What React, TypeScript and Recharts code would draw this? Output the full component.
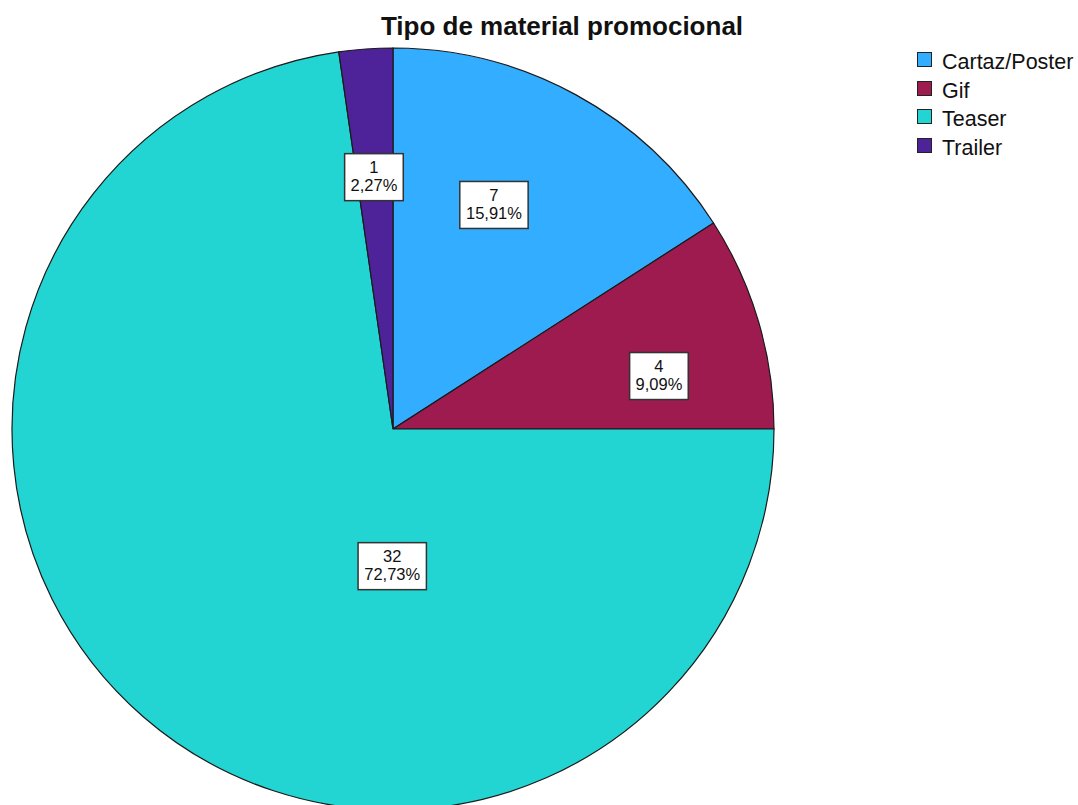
import React from "react";
import { PieChart, Pie, Cell, Legend } from "recharts";

const categories = ["Cartaz/Poster", "Gif", "Teaser", "Trailer"];
const counts = [7, 4, 32, 1];
const percentLabels = ["15,91%", "9,09%", "72,73%", "2,27%"];

const COLORS = ["#33adff", "#9e1b4f", "#22d5d3", "#4e2399"];
const FONT = '"Liberation Sans", Arial, sans-serif';

// label box centres as fractions of the radius (SPSS places them freely)
const LABEL_OFFSETS = [
  [0.265, -0.588],
  [0.698, -0.139],
  [-0.002, 0.36],
  [-0.05, -0.661],
];

const data = categories.map((name, i) => ({
  name,
  value: counts[i],
  pct: percentLabels[i],
}));

const charW = (s: string, size: number) => {
  let w = 0;
  for (const ch of s) {
    if (ch === ",") w += 0.278;
    else if (ch === "%") w += 0.889;
    else w += 0.556;
  }
  return w * size;
};

const SliceLabel = (props: any) => {
  const { cx, cy, outerRadius, index } = props;
  const [fx, fy] = LABEL_OFFSETS[index];
  const x = cx + fx * outerRadius;
  const y = cy + fy * outerRadius;
  const size = 16.5;
  const top = String(counts[index]);
  const bottom = percentLabels[index];
  const w = Math.max(charW(top, 17.5), charW(bottom, 17.5)) + 9;
  const h = 47;
  return (
    <g>
      <rect
        x={x - w / 2}
        y={y - h / 2}
        width={w}
        height={h}
        fill="#ffffff"
        stroke="#333333"
        strokeWidth={1.5}
      />
      <text
        x={x}
        y={y - 4}
        textAnchor="middle"
        fontFamily={FONT}
        fontSize={size}
        fill="#111"
      >
        {top}
      </text>
      <text
        x={x}
        y={y + 14}
        textAnchor="middle"
        fontFamily={FONT}
        fontSize={size}
        fill="#111"
      >
        {bottom}
      </text>
    </g>
  );
};

const LegendBox = () => (
  <div style={{ fontFamily: FONT }}>
    {categories.map((c, i) => (
      <div
        key={c}
        style={{ display: "flex", alignItems: "flex-start", height: 28.5 }}
      >
        <div
          style={{
            width: 13,
            height: 13,
            background: COLORS[i],
            border: "1px solid #222",
            marginTop: 1,
          }}
        />
        <span
          style={{
            marginLeft: 10,
            fontSize: 21.5,
            lineHeight: "20px",
            color: "#111",
            marginTop: 1,
          }}
        >
          {c}
        </span>
      </div>
    ))}
  </div>
);

export default function App() {
  return (
    <div
      style={{
        position: "absolute",
        left: 0,
        top: 0,
        width: 1078,
        height: 805,
        background: "#ffffff",
        overflow: "hidden",
      }}
    >
      <div
        style={{
          position: "absolute",
          left: 0,
          width: 1124,
          top: 11,
          textAlign: "center",
          fontFamily: FONT,
          fontWeight: "bold",
          fontSize: 26,
          color: "#111",
        }}
      >
        Tipo de material promocional
      </div>
      <PieChart width={1078} height={805} margin={{ top: 0, right: 0, bottom: 0, left: 0 }}>
        <Pie
          data={data}
          dataKey="value"
          nameKey="name"
          cx={393}
          cy={429}
          outerRadius={381}
          startAngle={90}
          endAngle={-270}
          stroke="#1a1a1a"
          strokeWidth={1.2}
          label={SliceLabel}
          labelLine={false}
          isAnimationActive={false}
        >
          {data.map((d, i) => (
            <Cell key={d.name} fill={COLORS[i]} />
          ))}
        </Pie>
        <Legend
          content={LegendBox}
          layout="vertical"
          verticalAlign="top"
          align="right"
          wrapperStyle={{ position: "absolute", left: 917, top: 51, width: 160 }}
        />
      </PieChart>
    </div>
  );
}
